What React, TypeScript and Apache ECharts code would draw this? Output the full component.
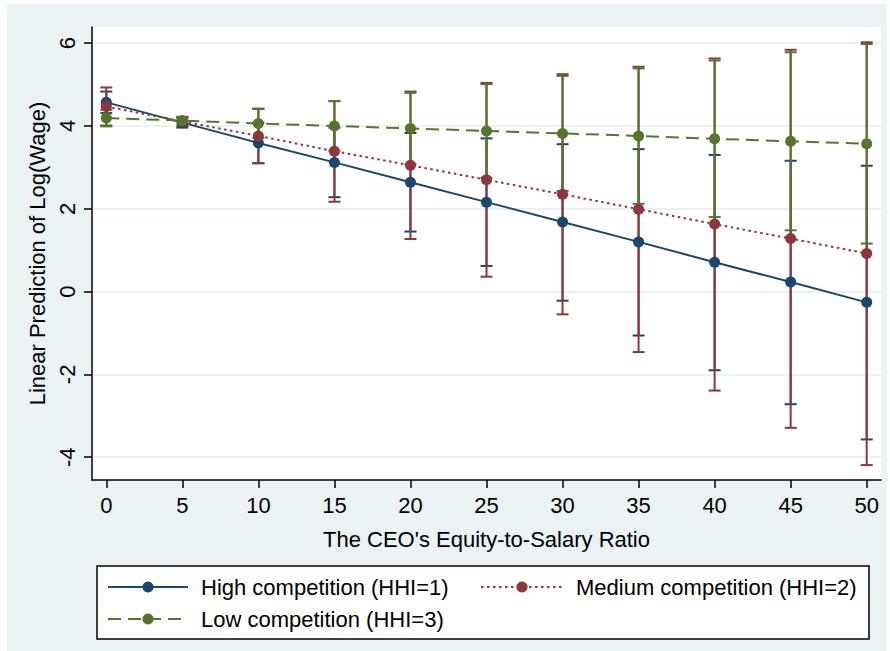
import React, { useEffect, useRef } from "react";
import * as echarts from "echarts";

const xs = [0, 5, 10, 15, 20, 25, 30, 35, 40, 45, 50];
const xTicks = [0, 5, 10, 15, 20, 25, 30, 35, 40, 45, 50];
const yTicks = [-4, -2, 0, 2, 4, 6];

const highEst = [4.57, 4.08, 3.59, 3.12, 2.64, 2.16, 1.68, 1.2, 0.71, 0.23, -0.26];
const highLo = [4.31, 3.96, 3.1, 2.28, 1.45, 0.62, -0.22, -1.06, -1.9, -2.72, -3.57];
const highHi = [4.83, 4.2, 4.08, 3.96, 3.83, 3.7, 3.56, 3.44, 3.3, 3.16, 3.04];

const midEst = [4.47, 4.11, 3.76, 3.39, 3.05, 2.7, 2.35, 1.99, 1.63, 1.28, 0.92];
const midLo = [4.01, 4.0, 3.1, 2.17, 1.27, 0.36, -0.55, -1.46, -2.39, -3.29, -4.19];
const midHi = [4.93, 4.22, 4.42, 4.6, 4.83, 5.04, 5.25, 5.43, 5.63, 5.84, 6.02];

const lowEst = [4.19, 4.13, 4.06, 4.0, 3.94, 3.88, 3.82, 3.76, 3.69, 3.63, 3.57];
const lowLo = [3.99, 4.06, 3.71, 3.4, 3.08, 2.75, 2.43, 2.12, 1.8, 1.48, 1.16];
const lowHi = [4.39, 4.2, 4.41, 4.6, 4.8, 5.01, 5.21, 5.39, 5.58, 5.78, 5.98];

const NAME_HIGH = "High competition (HHI=1)";
const NAME_MID = "Medium competition (HHI=2)";
const NAME_LOW = "Low competition (HHI=3)";

const C_HIGH = "#1a476f";
const C_MID = "#90353b";
const C_LOW = "#55752f";
const BG = "#eaf2f3";
const FONT = "'Liberation Sans', Arial, Helvetica, sans-serif";

function ciSeries(name: string, lo: number[], hi: number[], color: string) {
  return {
    type: "custom",
    name,
    z: 2,
    silent: true,
    encode: { x: 0, y: [1, 2] },
    data: xs.map((x, i) => [x, lo[i], hi[i]]),
    renderItem: (params: any, api: any) => {
      const x = api.value(0);
      const a = api.coord([x, api.value(1)]);
      const b = api.coord([x, api.value(2)]);
      const h = 6;
      const style = { stroke: color, lineWidth: 2 };
      return {
        type: "group",
        children: [
          { type: "line", shape: { x1: a[0], y1: a[1], x2: b[0], y2: b[1] }, style },
          { type: "line", shape: { x1: a[0] - h, y1: a[1], x2: a[0] + h, y2: a[1] }, style },
          { type: "line", shape: { x1: b[0] - h, y1: b[1], x2: b[0] + h, y2: b[1] }, style },
        ],
      };
    },
  };
}

function lineSeries(name: string, est: number[], color: string, type: any) {
  return {
    type: "line",
    name,
    z: 3,
    data: xs.map((x, i) => [x, est[i]]),
    symbol: "circle",
    symbolSize: 11,
    showSymbol: true,
    itemStyle: { color },
    lineStyle: { color, width: 2, type },
    emphasis: { disabled: true },
  };
}

export default function App() {
  const ref = useRef<HTMLDivElement>(null);
  useEffect(() => {
    document.body.style.margin = "0";
    const chart = echarts.init(ref.current!, undefined, { renderer: "svg" });
    const legendText = { fontSize: 22, color: "#000", fontFamily: FONT, padding: [0, 0, 0, 8] };
    chart.setOption({
      animation: false,
      backgroundColor: "#ffffff",
      textStyle: { fontFamily: FONT },
      graphic: [
        {
          type: "rect",
          z: -10,
          silent: true,
          shape: { x: 7, y: 4, width: 880, height: 647 },
          style: { fill: BG },
        },
        {
          type: "rect",
          z: 0,
          silent: true,
          shape: { x: 97, y: 566, width: 772, height: 73 },
          style: { fill: "#ffffff", stroke: "#000", lineWidth: 1.5 },
        },
      ],
      grid: {
        left: 92,
        top: 27,
        right: 9,
        bottom: 171,
        show: true,
        backgroundColor: "#ffffff",
        borderWidth: 0,
        z: -5,
      },
      legend: [
        {
          left: 107,
          top: 576,
          padding: 0,
          orient: "vertical",
          selectedMode: false,
          data: [NAME_HIGH, NAME_LOW],
          itemWidth: 80,
          itemHeight: 14,
          itemGap: 10,
          textStyle: legendText,
          z: 5,
        },
        {
          left: 480,
          top: 576,
          padding: 0,
          orient: "vertical",
          selectedMode: false,
          data: [NAME_MID],
          itemWidth: 82,
          itemHeight: 14,
          textStyle: legendText,
          z: 5,
        },
      ],
      xAxis: {
        type: "value",
        min: -0.94,
        max: 50.94,
        name: "The CEO's Equity-to-Salary Ratio",
        nameLocation: "middle",
        nameGap: 48,
        nameTextStyle: { fontSize: 22, color: "#000", fontFamily: FONT },
        axisLine: { show: true, onZero: false, lineStyle: { color: "#000", width: 1.5 } },
        axisTick: { show: true, length: 8, customValues: xTicks, lineStyle: { color: "#000", width: 1.5 } },
        axisLabel: { customValues: xTicks, fontSize: 22, color: "#000", margin: 14, fontFamily: FONT },
        splitLine: { show: false },
      },
      yAxis: {
        type: "value",
        min: -4.55,
        max: 6.39,
        name: "Linear Prediction of Log(Wage)",
        nameLocation: "middle",
        nameRotate: 90,
        nameGap: 44,
        nameTextStyle: { fontSize: 22, color: "#000", fontFamily: FONT },
        axisLine: { show: true, onZero: false, lineStyle: { color: "#000", width: 1.5 } },
        axisTick: { show: true, length: 8, customValues: yTicks, lineStyle: { color: "#000", width: 1.5 } },
        axisLabel: { customValues: yTicks, rotate: 90, fontSize: 22, color: "#000", margin: 14, fontFamily: FONT },
        splitLine: { show: true, lineStyle: { color: BG, width: 2 } },
      },
      series: [
        ciSeries("ci-high", highLo, highHi, C_HIGH),
        ciSeries("ci-mid", midLo, midHi, C_MID),
        ciSeries("ci-low", lowLo, lowHi, C_LOW),
        lineSeries(NAME_HIGH, highEst, C_HIGH, "solid"),
        lineSeries(NAME_MID, midEst, C_MID, [2.5, 3.5]),
        lineSeries(NAME_LOW, lowEst, C_LOW, [13, 7]),
      ],
    });
    return () => chart.dispose();
  }, []);
  return <div ref={ref} style={{ width: 890, height: 651 }} />;
}
